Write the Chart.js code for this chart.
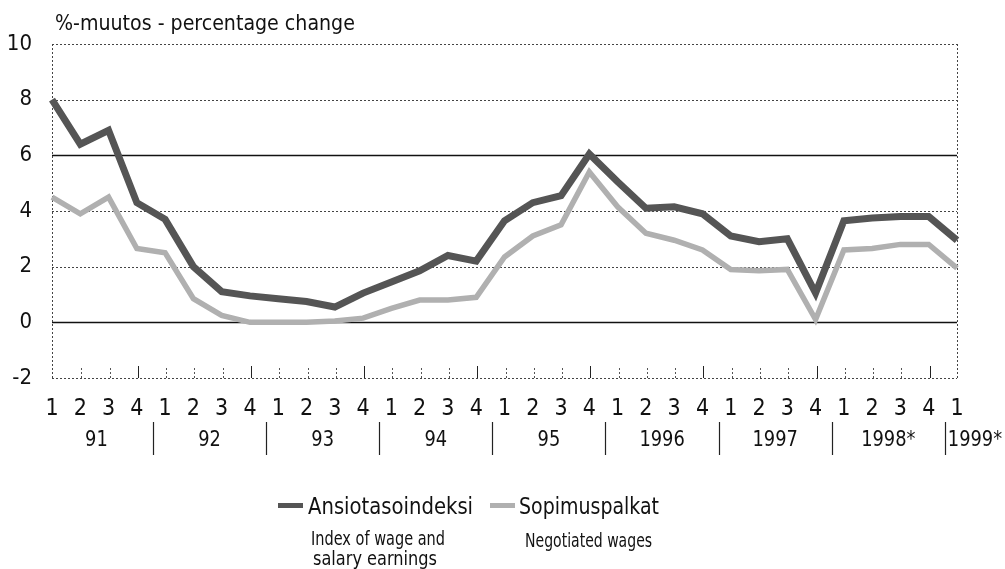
<!DOCTYPE html>
<html><head><meta charset="utf-8">
<script src="https://cdn.jsdelivr.net/npm/chart.js@4/dist/chart.umd.min.js"></script>
<style>
html,body{margin:0;padding:0;background:#fff;}
#wrap{position:relative;width:1005px;height:569px;overflow:hidden;}
canvas{position:absolute;left:0;top:0;}
.t{position:absolute;font-family:'DejaVu Sans Condensed','Liberation Sans Narrow',sans-serif;color:#111;white-space:nowrap;line-height:1;transform-origin:0 0;}
.sw{position:absolute;height:5px;width:25px;}
</style></head><body>
<div id="wrap"><canvas id="c" width="1005" height="569"></canvas>
<div class="t" data-w="300" style="left:55px;top:13px;font-size:21px;">%-muutos - percentage change</div>
<div class="sw" style="left:278px;top:503px;background:#555;"></div>
<div class="t" data-w="165" style="left:308px;top:495px;font-size:23px;">Ansiotasoindeksi</div>
<div class="sw" style="left:490px;top:503px;background:#b0b0b0;"></div>
<div class="t" data-w="140" style="left:519px;top:495px;font-size:23px;">Sopimuspalkat</div>
<div class="t" data-w="134" style="left:311px;top:528px;font-size:20px;">Index of wage and</div>
<div class="t" data-w="124" style="left:313px;top:548px;font-size:20px;">salary earnings</div>
<div class="t" data-w="127" style="left:525px;top:530px;font-size:20px;">Negotiated wages</div>
</div>
<script>
const quarters = ["1","2","3","4","1","2","3","4","1","2","3","4","1","2","3","4","1","2","3","4","1","2","3","4","1","2","3","4","1","2","3","4","1"];
const years = ["91","92","93","94","95","1996","1997","1998*","1999*"];
const ansiotasoindeksi = [8.0,6.4,6.9,4.3,3.7,2.0,1.1,0.95,0.85,0.75,0.55,1.05,1.45,1.85,2.4,2.2,3.65,4.3,4.55,6.05,5.05,4.1,4.15,3.9,3.1,2.9,3.0,1.05,3.65,3.75,3.8,3.8,2.95];
const sopimuspalkat = [4.5,3.9,4.5,2.65,2.5,0.85,0.25,0.0,0.0,0.0,0.05,0.15,0.5,0.8,0.8,0.9,2.35,3.1,3.5,5.4,4.15,3.2,2.95,2.6,1.9,1.85,1.9,0.1,2.6,2.65,2.8,2.8,1.95];
const yTicks = [-2,0,2,4,6,8,10];
const solidLines = [0,6];

const FONT = "'DejaVu Sans Condensed','Liberation Sans Narrow',sans-serif";

document.querySelectorAll('.t[data-w]').forEach(el=>{
  const w = el.getBoundingClientRect().width;
  const target = parseFloat(el.dataset.w);
  if (w > 0) el.style.transform = 'scaleX(' + (target / w).toFixed(3) + ')';
});

const decor = {
  id:'decor',
  beforeDatasetsDraw(chart){
    const ctx = chart.ctx, a = chart.chartArea, ys = chart.scales.y, xs = chart.scales.x;
    ctx.save();
    yTicks.forEach(v=>{
      const py = Math.round(ys.getPixelForValue(v))+0.5;
      ctx.beginPath();
      if (solidLines.includes(v)) { ctx.setLineDash([]); ctx.strokeStyle='#111'; ctx.lineWidth=1.3; }
      else { ctx.setLineDash([2,2]); ctx.strokeStyle='#444'; ctx.lineWidth=1; }
      ctx.moveTo(a.left, py); ctx.lineTo(a.right, py); ctx.stroke();
    });
    ctx.setLineDash([2,2]); ctx.strokeStyle='#444'; ctx.lineWidth=1;
    [a.left, a.right].forEach(px=>{
      ctx.beginPath(); ctx.moveTo(Math.round(px)+0.5, a.top); ctx.lineTo(Math.round(px)+0.5, a.bottom); ctx.stroke();
    });
    for (let i=1;i<quarters.length-1;i++){
      const px = Math.round(xs.getPixelForValue(i))+1.5;
      ctx.beginPath();
      if (quarters[i]==="4") { ctx.setLineDash([]); ctx.strokeStyle='#222'; }
      else { ctx.setLineDash([2,2]); ctx.strokeStyle='#555'; }
      ctx.moveTo(px, a.bottom); ctx.lineTo(px, a.bottom-12); ctx.stroke();
    }
    ctx.restore();
  },
  afterDraw(chart){
    const ctx = chart.ctx, xs = chart.scales.x;
    const sxk = 0.9;
    ctx.save();
    ctx.font = "22px " + FONT;
    ctx.fillStyle = '#111';
    ctx.textBaseline = 'middle';
    const yl = 440;
    for (let k=0;k<years.length;k++){
      const i0 = k*4;
      if (k < years.length-1){
        const cx = (xs.getPixelForValue(i0) + xs.getPixelForValue(i0+3))/2 + 2;
        ctx.save(); ctx.translate(cx, yl); ctx.scale(sxk, 1);
        ctx.textAlign='center';
        ctx.fillText(years[k], 0, 0);
        ctx.restore();
        const sx = Math.round((xs.getPixelForValue(i0+3)+xs.getPixelForValue(i0+4))/2 + 2)+0.5;
        ctx.beginPath(); ctx.strokeStyle='#222'; ctx.lineWidth=1.2;
        ctx.moveTo(sx, 422); ctx.lineTo(sx, 455); ctx.stroke();
      } else {
        const sx = (xs.getPixelForValue(i0-1)+xs.getPixelForValue(i0))/2 + 2;
        ctx.save(); ctx.translate(sx+3, yl); ctx.scale(sxk, 1);
        ctx.textAlign='left';
        ctx.fillText(years[k], 0, 0);
        ctx.restore();
      }
    }
    ctx.restore();
  }
};

new Chart(document.getElementById('c'), {
  type:'line',
  data:{
    labels: quarters,
    datasets:[
      {label:'Ansiotasoindeksi', data: ansiotasoindeksi, borderColor:'#555', borderWidth:7, pointRadius:0, tension:0, borderJoinStyle:'miter', fill:false},
      {label:'Sopimuspalkat', data: sopimuspalkat, borderColor:'#b0b0b0', borderWidth:5.5, pointRadius:0, tension:0, borderJoinStyle:'miter', fill:false, order:1}
    ]
  },
  options:{
    responsive:false, animation:false,
    layout:{padding:{top:44,right:48,left:0,bottom:0}},
    plugins:{legend:{display:false}, tooltip:{enabled:false}},
    scales:{
      x:{
        offset:false,
        grid:{display:false, drawTicks:false},
        border:{display:false},
        ticks:{autoSkip:false, maxRotation:0, padding:17, color:'#111', font:{size:23, family:FONT}},
        afterFit(s){ s.height = 191; }
      },
      y:{
        min:-2, max:10,
        grid:{display:false, drawTicks:false},
        border:{display:false},
        ticks:{stepSize:2, padding:20, color:'#111', font:{size:22, family:FONT}},
        afterFit(s){ s.width = 52; }
      }
    }
  },
  plugins:[decor]
});
</script>
</body></html>
